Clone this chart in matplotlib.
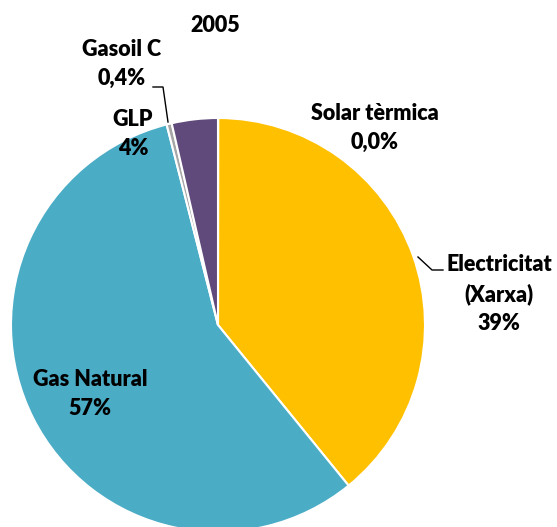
import matplotlib.pyplot as plt

# dades 2005
categories = ['Solar tèrmica', 'Electricitat (Xarxa)', 'Gas Natural', 'Gasoil C', 'GLP']
valors = [0.02, 39.2, 57.0, 0.4, 3.6]
etiquetes = ['Solar tèrmica\n0,0%', 'Electricitat\n(Xarxa)\n39%', 'Gas Natural\n57%',
             'Gasoil C\n0,4%', 'GLP\n4%']
colors = ['#000000', '#FFC000', '#4BACC6', '#A6A6A6', '#604A7B']

W, H = 557, 527
fig = plt.figure(figsize=(W / 100, H / 100), dpi=100)
ax = fig.add_axes([0, 0, 1, 1])

cx, cy, r = 218, H - 325, 207
wedges, _ = ax.pie(valors, colors=colors, startangle=90, counterclock=False,
                   center=(cx, cy), radius=r, frame=True,
                   wedgeprops=dict(edgecolor='white', linewidth=1.5))
wedges[0].set_edgecolor('black')
wedges[0].set_linewidth(1.2)
ax.set_xlim(0, W)
ax.set_ylim(0, H)
ax.set_aspect('equal')
ax.axis('off')

font = dict(family=['Lato', 'DejaVu Sans'], fontweight='heavy', fontsize=15.5,
            ha='center', va='center', linespacing=1.45, color='black')

def px(x, y):
    return x, H - y

ax.text(*px(215, 25), '2005', **font)
posicions = [(375, 128), (499, 294), (90, 394), (122, 64), (133, 134)]
for (x, y), txt in zip(posicions, etiquetes):
    ax.text(*px(x, y), txt, **font)

# línies guia
ax.plot([153, 163, 168], [H - 87, H - 87, H - 122], color='black', lw=1)
ax.plot([418, 432, 443], [H - 257, H - 270, H - 270], color='black', lw=1)

fig.savefig('out.png', dpi=100)
